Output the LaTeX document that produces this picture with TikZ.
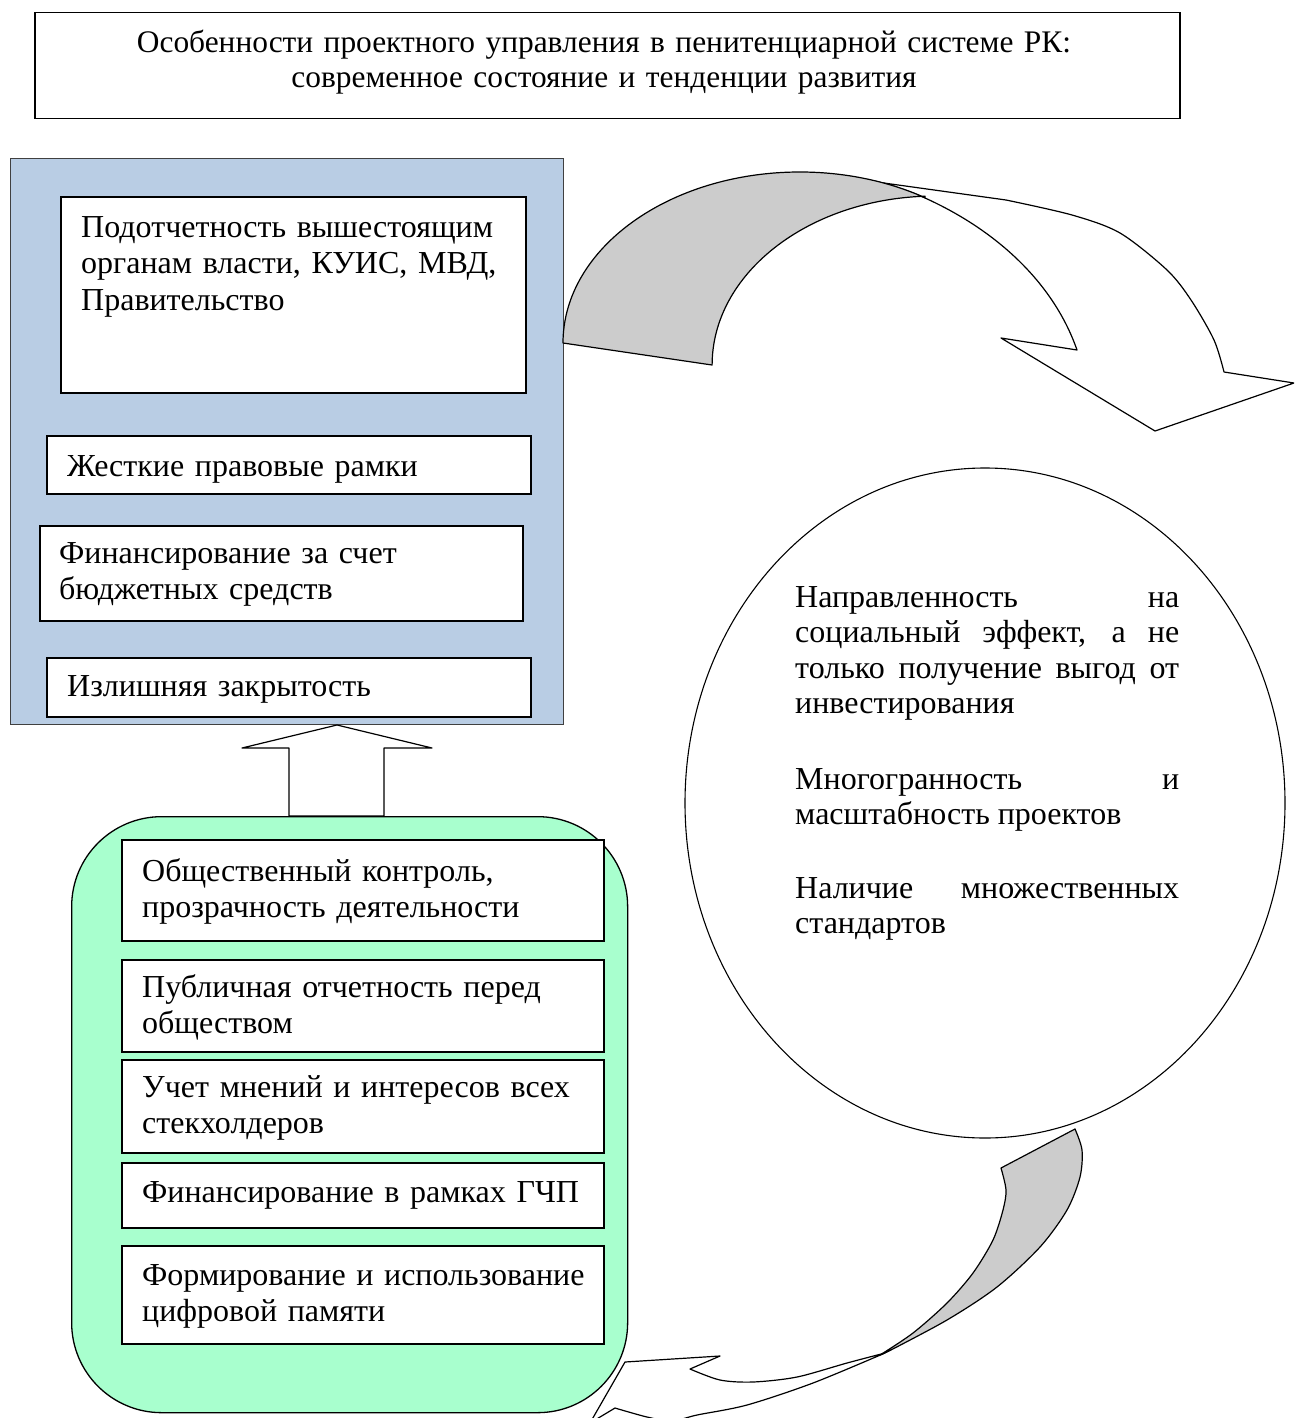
\documentclass[tikz,border=0pt]{standalone}
\usepackage{fontspec}
\setmainfont{Liberation Serif}
\usetikzlibrary{shapes.geometric}
\definecolor{boxblue}{RGB}{185,205,228}
\definecolor{boxgreen}{RGB}{168,255,206}
\definecolor{ribgray}{RGB}{204,204,204}
\tikzset{
  wbox/.style={draw, fill=white, line width=1.5pt, inner sep=0pt, anchor=north west, rectangle},
  txt/.style={inner sep=0pt, anchor=base west, align=left, font=\fontsize{32}{36.5}\selectfont},
  ribbon/.style={draw, line width=1.2pt, line join=round},
}
\begin{document}
\begin{tikzpicture}[x=1pt,y=-1pt]
\useasboundingbox (0,0) rectangle (1294,1418);
\clip (0,0) rectangle (1294,1418);

% title
\node[wbox, minimum width=1145pt, minimum height=106pt] (title) at (34,12) {};
\node[txt, anchor=base, align=center, text width=1140pt, font=\fontsize{31.4}{35}\selectfont] (titletext) at (604,53)
  {Особенности проектного управления в пенитенциарной системе РК:\\современное состояние и тенденции развития};

% blue block
\node[draw=black!75, fill=boxblue, line width=1.3pt, minimum width=553pt, minimum height=566pt, anchor=north west, inner sep=0pt] (blue) at (10,158) {};
\node[wbox, minimum width=465pt, minimum height=196pt] (b1) at (60,196) {};
\node[wbox, minimum width=484pt, minimum height=58pt] (b2) at (46,435) {};
\node[wbox, minimum width=483pt, minimum height=95pt] (b3) at (39,525) {};
\node[wbox, minimum width=484pt, minimum height=59pt] (b4) at (46,657) {};
\node[txt, text width=440pt] (t1) at (81,237) {Подотчетность вышестоящим\\органам власти, КУИС, МВД,\\Правительство};
\node[txt, text width=440pt] (t2) at (67,476) {Жесткие правовые рамки};
\node[txt, text width=440pt] (t3) at (59,563) {Финансирование за счет\\бюджетных средств};
\node[txt, text width=440pt] (t4) at (67,696) {Излишняя закрытость};

% up arrow from green to blue
\coordinate (uptip) at (337,725);
\filldraw[ribbon, fill=white] (uptip) -- (432,748) -- (384,748) -- (384,816) -- (289,816) -- (289,748) -- (242,748) -- cycle;

% green block
\node[draw, fill=boxgreen, line width=1.3pt, rounded corners=90pt, minimum width=556pt, minimum height=596pt, anchor=north west, inner sep=0pt] (green) at (71,816) {};
\node[wbox, minimum width=482pt, minimum height=101pt] (g1) at (121,839) {};
\node[wbox, minimum width=482pt, minimum height=92pt] (g2) at (121,959) {};
\node[wbox, minimum width=482pt, minimum height=93pt] (g3) at (121,1059) {};
\node[wbox, minimum width=482pt, minimum height=65pt] (g4) at (121,1162) {};
\node[wbox, minimum width=482pt, minimum height=98pt] (g5) at (121,1245) {};
\node[txt, text width=460pt] (u1) at (142,881) {Общественный контроль,\\прозрачность деятельности};
\node[txt, text width=460pt] (u2) at (142,997) {Публичная отчетность перед\\обществом};
\node[txt, text width=460pt] (u3) at (142,1097) {Учет мнений и интересов всех\\стекхолдеров};
\node[txt, text width=460pt] (u4) at (142,1202) {Финансирование в рамках ГЧП};
\node[txt, text width=460pt] (u5) at (142,1285) {Формирование и использование\\цифровой памяти};

% ellipse
\node[draw, ellipse, line width=1.1pt, minimum width=600pt, minimum height=670pt, inner sep=0pt] (ell) at (985,803) {};
\node[txt, text width=384pt, align=justify, font=\fontsize{32}{35.5}\selectfont] (elltext) at (795,607)
  {\tolerance=10000 Направленность на\linebreak социальный эффект, а не\linebreak только получение выгод от\linebreak инвестирования\par\vspace{40pt}Многогранность и\linebreak масштабность проектов\par\vspace{38pt}Наличие множественных\linebreak стандартов\par};

% top curved arrow (blue block -> ellipse)
\coordinate (topjoin) at (925,198);
\filldraw[ribbon, fill=white] (855,179) -- (1006,200)
  -- plot[smooth] coordinates {(1006,200) (1072,215) (1120,233) (1167,270) (1191,300) (1214,340) (1224,372)}
  -- (1294,383) -- (1155,431) -- (1001,338) -- (1077,350)
  .. controls (1054,284) and (998,231) .. (topjoin)
  arc[start angle=301.8, end angle=289, x radius=237, y radius=171] -- cycle;
\filldraw[ribbon, fill=ribgray] (563,343)
  arc[start angle=180, end angle=301.8, x radius=237, y radius=171]
  -- (925,196.2) arc[start angle=267.4, end angle=180, x radius=223, y radius=169] -- cycle;

% bottom curved arrow (ellipse -> green block)
\filldraw[ribbon, fill=white] (885,1353)
  -- plot[smooth] coordinates {(885,1353) (847,1363) (797,1377) (753,1382) (720,1380) (690,1369)}
  -- (720,1356) -- (625,1362) -- (590,1423) -- (615,1408)
  -- plot[smooth] coordinates {(615,1408) (647,1417) (672,1421) (697,1415) (747,1405) (813,1383) (885,1353)} -- cycle;
\filldraw[ribbon, fill=ribgray]
  plot[smooth] coordinates {(1075,1129) (1082,1150) (1080,1177) (1067,1210) (1040,1247) (997,1287) (947,1320) (887,1352)}
  -- plot[smooth] coordinates {(880,1355) (913,1333) (947,1303) (973,1273) (993,1240) (1003,1210) (1006,1190) (1001,1168)} -- cycle;
\end{tikzpicture}
\end{document}
